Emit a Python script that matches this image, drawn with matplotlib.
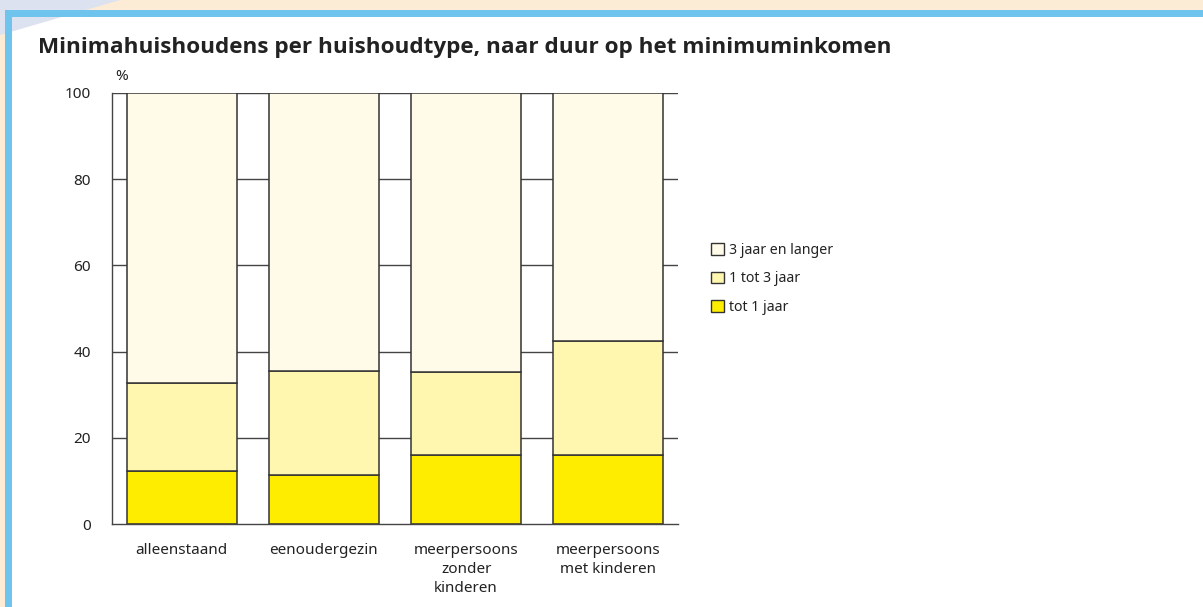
import matplotlib
matplotlib.use("Agg")
import matplotlib.pyplot as plt
import matplotlib.patches as mpatches
import numpy as np

# ── Data ──────────────────────────────────────────────────────────
categories = ["alleenstaand", "eenoudergezin",
              "meerpersoons\nzonder\nkinderen", "meerpersoons\nmet kinderen"]
tot_1_jaar = [12.3, 11.4, 16.0, 16.0]
tot_3_jaar = [20.4, 24.1, 19.3, 26.5]
langer = [100 - a - b for a, b in zip(tot_1_jaar, tot_3_jaar)]
series_labels = ["tot 1 jaar", "1 tot 3 jaar", "3 jaar en langer"]
y_ticks = [0, 20, 40, 60, 80, 100]

# ── Style ─────────────────────────────────────────────────────────
COLORS = ["#FFED00", "#FFF6B0", "#FFFBE8"]
EDGE = "#333333"
TEXT = "#222222"
BLUE = "#6EC4EC"
ORANGE = "#FCEBD5"
LAVENDER = "#DDE2F0"
plt.rcParams["font.family"] = ["Noto Sans", "DejaVu Sans"]

W, H = 1203, 607
fig = plt.figure(figsize=(W / 100, H / 100), dpi=100, facecolor="white")

# frame decoration (pixel coords -> figure fraction)
def px_rect(x0, y0, x1, y1, color):
    fig.patches.append(mpatches.Rectangle((x0 / W, 1 - y1 / H), (x1 - x0) / W, (y1 - y0) / H,
                                          transform=fig.transFigure, facecolor=color,
                                          edgecolor="none", zorder=0))

px_rect(0, 0, W, 10, ORANGE)
px_rect(0, 0, 5, H, ORANGE)
fig.patches.append(mpatches.Polygon([(0, 1), (120 / W, 1), (0, 1 - 35 / H)],
                                    closed=True, transform=fig.transFigure,
                                    facecolor=LAVENDER, edgecolor="none", zorder=0))
px_rect(5, 10, W, 17, BLUE)
px_rect(5, 10, 12, H, BLUE)

fig.text(38 / W, 1 - 47 / H, "Minimahuishoudens per huishoudtype, naar duur op het minimuminkomen",
         fontsize=16.2, fontweight="bold", family=["Open Sans", "DejaVu Sans"],
         color=TEXT, va="center", ha="left")

ax = fig.add_axes([112 / W, 1 - 524 / H, (678 - 112) / W, (524 - 93) / H])
ax.set_facecolor("none")
x = np.arange(len(categories))
width = 0.775

bottom = np.zeros(len(categories))
for vals, color, lab in zip([tot_1_jaar, tot_3_jaar, langer], COLORS, series_labels):
    ax.bar(x, vals, width, bottom=bottom, color=color, edgecolor=EDGE,
           linewidth=1.1, label=lab, zorder=3)
    bottom += np.array(vals)

ax.set_xlim(-0.49, 3.49)
ax.set_ylim(0, 100)
ax.set_yticks(y_ticks)
ax.set_yticklabels([str(t) for t in y_ticks], fontsize=11, color=TEXT)
ax.tick_params(axis="y", length=0, pad=15)
ax.tick_params(axis="x", length=0, pad=14)
ax.set_xticks(x)
ax.set_xticklabels(categories, fontsize=11, color=TEXT, linespacing=1.35)

for t in y_ticks[1:]:
    ax.axhline(t, color="#444444", linewidth=1.0, zorder=1)
for s in ["top", "right"]:
    ax.spines[s].set_visible(False)
ax.spines["left"].set_color("#444444")
ax.spines["bottom"].set_color("#444444")
ax.spines["left"].set_linewidth(1.0)
ax.spines["bottom"].set_linewidth(1.0)
ax.spines["bottom"].set_zorder(4)

ax.text(0.005, 1.02, "%", transform=ax.transAxes, fontsize=11, color=TEXT,
        ha="left", va="bottom")

handles = [mpatches.Patch(facecolor=c, edgecolor=EDGE, linewidth=1.0) for c in COLORS]
fig.legend(handles[::-1], series_labels[::-1], loc="upper left",
           bbox_to_anchor=(711 / W, 1 - 243 / H), frameon=False, fontsize=10.2,
           handlelength=0.9, handleheight=0.9, handletextpad=0.35, labelspacing=0.95,
           labelcolor=TEXT, borderaxespad=0, borderpad=0)

fig.savefig("out.png", dpi=100, facecolor="white")
